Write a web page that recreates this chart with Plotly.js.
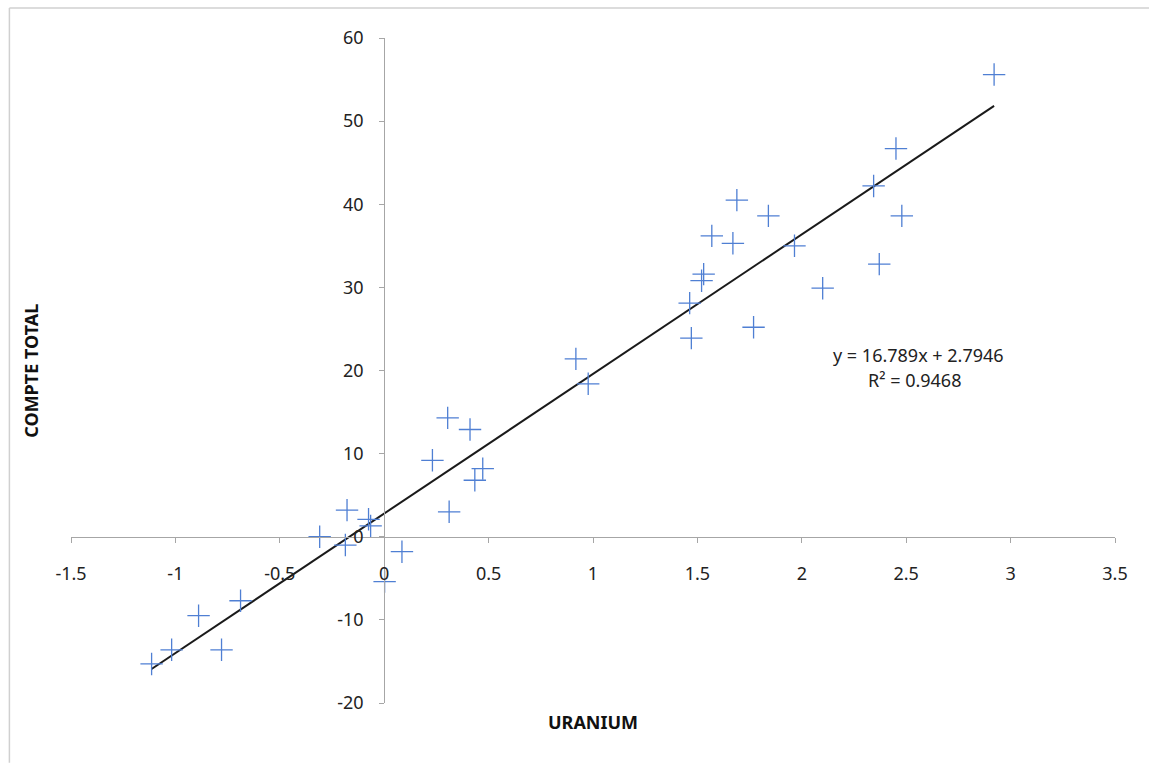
<!DOCTYPE html>
<html>
<head>
<meta charset="utf-8">
<script src="https://cdn.plot.ly/plotly-3.0.1.min.js"></script>
<style>html,body{margin:0;padding:0;background:#fff;}#chart{width:1149px;height:763px;}</style>
</head>
<body>
<div id="chart"></div>
<script>
// Data
const uranium = [-1.114, -1.018, -0.889, -0.779, -0.688, -0.309, -0.178, -0.186, -0.075, -0.065,
  0.085, 0.002, 0.311, 0.304, 0.411, 0.231, 0.472, 0.434, 0.918, 0.977,
  1.463, 1.471, 1.520, 1.530, 1.569, 1.670, 1.689, 1.769, 1.840, 1.965,
  2.100, 2.344, 2.371, 2.451, 2.479, 2.921];
const compteTotal = [-15.3, -13.6, -9.5, -13.6, -7.7, 0.0, 3.2, -1.0, 2.1, 1.3,
  -1.8, -5.4, 3.0, 14.3, 12.9, 9.2, 8.2, 6.8, 21.4, 18.4,
  28.1, 23.9, 30.8, 31.6, 36.2, 35.3, 40.5, 25.2, 38.6, 35.0,
  29.9, 42.2, 32.8, 46.7, 38.6, 55.6];
const slope = 16.789;
const intercept = 2.7946;
const eqText = "y = 16.789x + 2.7946";
const r2Text = "R² = 0.9468";
const xTicks = [-1.5, -1, -0.5, 0, 0.5, 1, 1.5, 2, 2.5, 3, 3.5];
const yTicks = [-20, -10, 0, 10, 20, 30, 40, 50, 60];
const xTitle = "URANIUM";
const yTitle = "COMPTE TOTAL";

const xMin = Math.min(...uranium), xMax = Math.max(...uranium);
const trendX = [xMin, xMax];
const trendY = trendX.map(v => slope * v + intercept);

const font = "Noto Sans, Open Sans, sans-serif";
const axisColor = "#a6a6a6";
const fs = 18;

const traces = [
  {
    x: trendX, y: trendY, mode: "lines", type: "scatter",
    line: {color: "#1a1a1a", width: 2}, hoverinfo: "skip", showlegend: false
  },
  {
    x: uranium, y: compteTotal, mode: "markers", type: "scatter",
    marker: {symbol: "cross-thin-open", size: 16, line: {color: "#4f7fd3", width: 1.3}, color: "#4f7fd3"},
    showlegend: false
  }
];

const layout = {
  width: 1149, height: 763,
  margin: {l: 71, r: 34, t: 38, b: 60},
  paper_bgcolor: "#fff", plot_bgcolor: "#fff",
  font: {family: font, size: fs, color: "#222"},
  showlegend: false,
  xaxis: {
    range: [-1.5, 3.5], domain: [0, 1], anchor: "free", position: 0.25,
    tickvals: xTicks, ticktext: xTicks.map(String),
    showgrid: false, zeroline: false,
    showline: true, linecolor: axisColor, linewidth: 1,
    ticks: "outside", ticklen: 5, tickcolor: axisColor,
    ticklabelstandoff: 16,
    tickfont: {family: font, size: fs, color: "#222"}
  },
  yaxis: {
    range: [-20, 60], domain: [0, 1], anchor: "free", position: 0.3,
    tickvals: yTicks, ticktext: yTicks.map(String),
    showgrid: false, zeroline: false,
    showline: true, linecolor: axisColor, linewidth: 1,
    ticks: "outside", ticklen: 5, tickcolor: axisColor,
    ticklabelstandoff: 12,
    tickfont: {family: font, size: fs, color: "#222"}
  },
  annotations: [
    {text: eqText, x: 2.56, y: 21.9, xref: "x", yref: "y", showarrow: false,
     font: {family: font, size: fs, color: "#222"}},
    {text: r2Text, x: 2.54, y: 18.9, xref: "x", yref: "y", showarrow: false,
     font: {family: font, size: fs, color: "#222"}},
    {text: "<b>" + xTitle + "</b>", x: 0.5, y: -0.0285, xref: "paper", yref: "paper",
     xanchor: "center", yanchor: "middle", showarrow: false,
     font: {family: font, size: fs, color: "#111"}},
    {text: "<b>" + yTitle + "</b>", x: -0.039, y: 0.5, xref: "paper", yref: "paper",
     xanchor: "center", yanchor: "middle", textangle: -90, showarrow: false,
     font: {family: font, size: fs, color: "#111"}}
  ],
  shapes: [
    {type: "line", xref: "paper", yref: "paper", x0: -0.059, x1: 1.04, y0: 1.045, y1: 1.045,
     line: {color: "#d0d0d0", width: 1.5}},
    {type: "line", xref: "paper", yref: "paper", x0: -0.059, x1: -0.059, y0: 1.045, y1: -0.09,
     line: {color: "#d0d0d0", width: 1.5}}
  ]
};

Plotly.newPlot("chart", traces, layout, {displayModeBar: false, staticPlot: true});
</script>
</body>
</html>
